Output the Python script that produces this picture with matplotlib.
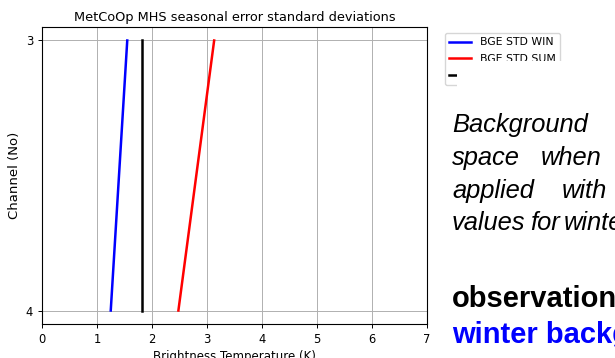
import matplotlib
matplotlib.use("Agg")
import matplotlib.pyplot as plt
from matplotlib.patches import Rectangle

# ---- data ----
channels = [3, 4]
bge_std_win = [1.55, 1.25]
bge_std_sum = [3.13, 2.48]
obs_std = [1.81, 1.81]
x_ticks = [0, 1, 2, 3, 4, 5, 6, 7]
y_ticks = [3, 4]
series_labels = ["BGE STD WIN", "BGE STD SUM", "OBS ERR STD"]
title = "MetCoOp MHS seasonal error standard deviations"
xlabel = "Brightness Temperature (K)"
ylabel = "Channel (No)"
# visible words of the slide text, one list per line
italic_lines = [["Background"], ["space", "when"], ["applied", "with"],
                ["values", "for", "winter"]]
bold_line1 = "observation"
bold_line2 = "winter background"

W, H = 615, 358
fig = plt.figure(figsize=(W / 100, H / 100), dpi=100)
fs_tick = 8.3
ax = fig.add_axes([42 / W, 34 / H, 385 / W, 297 / H])
ax.plot(bge_std_win, channels, color="blue", lw=1.8, label=series_labels[0])
ax.plot(bge_std_sum, channels, color="red", lw=1.8, label=series_labels[1])
ax.plot(obs_std, channels, color="black", lw=1.8, label=series_labels[2])
ax.set_xlim(0, 7)
ax.set_xticks(x_ticks)
ax.set_yticks(y_ticks)
ax.invert_yaxis()
ax.grid(True, color="#b0b0b0", lw=0.7)
ax.set_axisbelow(True)
ax.tick_params(labelsize=fs_tick, length=3, width=0.7, pad=3.5)
for s in ax.spines.values():
    s.set_linewidth(0.8)
ax.set_title(title, fontsize=9.3, pad=4)
ax.set_xlabel(xlabel, fontsize=8.5, labelpad=3)
ax.set_ylabel(ylabel, fontsize=9.5, labelpad=3)
leg = ax.legend(loc="upper left", bbox_to_anchor=(445 / W, 1 - 33 / H),
                bbox_transform=fig.transFigure, borderaxespad=0, fontsize=7.8,
                labelspacing=0.6, frameon=True)

# white overlay covering part of the legend (slide text box)
fig.patches.append(Rectangle((457 / W, 0), 1 - 457 / W, 1 - 61 / H,
                             transform=fig.transFigure, facecolor="white",
                             edgecolor="none", zorder=2))

baselines = [132, 165, 198, 230]
word_x = [[452], [452, 541], [452, 562], [452, 530, 564]]
for words, xs, b in zip(italic_lines, word_x, baselines):
    for w, x in zip(words, xs):
        fig.text(x / W, 1 - b / H, w, fontsize=18.4, style="italic",
                 family="Liberation Sans", va="baseline", ha="left", zorder=3)
fig.text(452 / W, 1 - 307 / H, bold_line1, fontsize=21, weight="bold",
         family="Liberation Sans", va="baseline", ha="left", color="black", zorder=3)
fig.text(452 / W, 1 - 343 / H, bold_line2, fontsize=21, weight="bold",
         family="Liberation Sans", va="baseline", ha="left", color="blue", zorder=3)

fig.savefig("out.png", dpi=100)
